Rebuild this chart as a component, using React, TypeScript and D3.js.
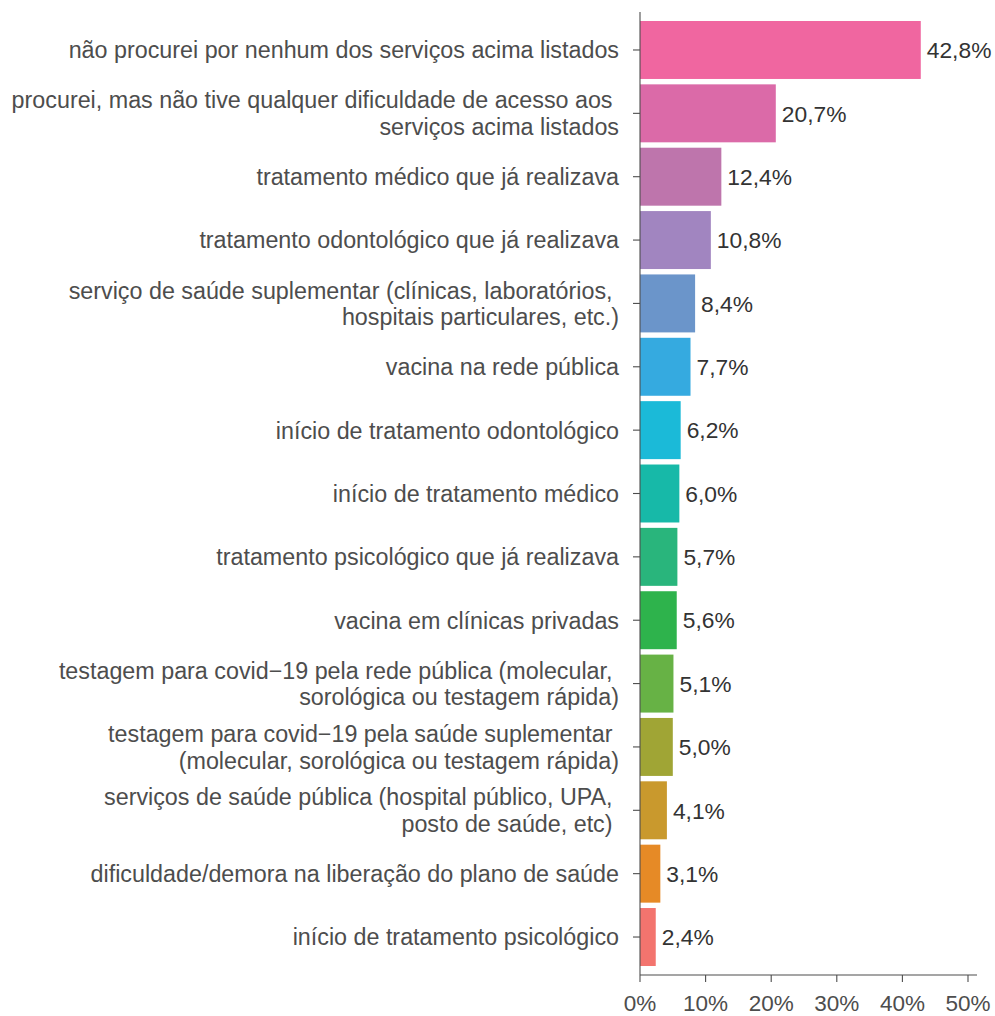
import React from "react";
import * as d3 from "d3";

const categories: string[][] = [
  ["não procurei por nenhum dos serviços acima listados"],
  ["procurei, mas não tive qualquer dificuldade de acesso aos ", "serviços acima listados"],
  ["tratamento médico que já realizava"],
  ["tratamento odontológico que já realizava"],
  ["serviço de saúde suplementar (clínicas, laboratórios, ", "hospitais particulares, etc.)"],
  ["vacina na rede pública"],
  ["início de tratamento odontológico"],
  ["início de tratamento médico"],
  ["tratamento psicológico que já realizava"],
  ["vacina em clínicas privadas"],
  ["testagem para covid−19 pela rede pública (molecular, ", "sorológica ou testagem rápida)"],
  ["testagem para covid−19 pela saúde suplementar ", "(molecular, sorológica ou testagem rápida)"],
  ["serviços de saúde pública (hospital público, UPA, ", "posto de saúde, etc) "],
  ["dificuldade/demora na liberação do plano de saúde"],
  ["início de tratamento psicológico"],
];
const values: number[] = [42.8, 20.7, 12.4, 10.8, 8.4, 7.7, 6.2, 6.0, 5.7, 5.6, 5.1, 5.0, 4.1, 3.1, 2.4];
const valueLabels: string[] = ["42,8%", "20,7%", "12,4%", "10,8%", "8,4%", "7,7%", "6,2%", "6,0%", "5,7%", "5,6%", "5,1%", "5,0%", "4,1%", "3,1%", "2,4%"];
const colors: string[] = [
  "#F066A0", "#DB6AA8", "#BE75AC", "#A185C0", "#6B95CA", "#35AAE0", "#1BBAD8",
  "#17B9A8", "#29B57C", "#2EB34C", "#67B245", "#A0A535", "#C9992D", "#E68A26", "#F3746E",
];
const xTicks: number[] = [0, 10, 20, 30, 40, 50];

export default function App() {
  const W = 995, H = 1016;
  const x0 = 640;
  const x = d3.scaleLinear().domain([0, 50]).range([x0, 968]);
  const idx = categories.map((_, i) => String(i));
  const y = d3.scaleBand().domain(idx).range([18.3, 968.7]).paddingInner(0.085).paddingOuter(0.0425);
  const font = "'Liberation Sans', Arial, Helvetica, sans-serif";
  const lh = 26.5;
  return (
    <svg width={W} height={H} style={{ position: "absolute", left: 0, top: 0, background: "#fff" }} fontFamily={font}>
      {values.map((v, i) => {
        const yy = y(String(i))!;
        return (
          <g key={i}>
            <rect x={x(0)} y={yy} width={x(v) - x(0)} height={y.bandwidth()} fill={colors[i]} />
            <text x={x(v) + 6} y={yy + y.bandwidth() / 2} dy="0.36em" fontSize={22.8} fill="#333333">{valueLabels[i]}</text>
          </g>
        );
      })}
      <line x1={x0} x2={x0} y1={12} y2={975} stroke="#4d4d4d" strokeWidth={1.1} />
      {categories.map((lines, i) => {
        const cy = y(String(i))! + y.bandwidth() / 2;
        const n = lines.length;
        return (
          <g key={"c" + i}>
            <line x1={x0 - 7} x2={x0} y1={cy} y2={cy} stroke="#4d4d4d" strokeWidth={1.1} />
            {lines.map((l, j) => (
              <text key={j} x={619} y={cy + (j - (n - 1) / 2) * lh} dy="0.36em" textAnchor="end" fontSize={23.3} fill="#4d4d4d" style={{ whiteSpace: "pre" }}>{l}</text>
            ))}
          </g>
        );
      })}
      <line x1={x0} x2={977} y1={975} y2={975} stroke="#4d4d4d" strokeWidth={1.1} />
      {xTicks.map((t) => (
        <g key={"t" + t}>
          <line x1={x(t)} x2={x(t)} y1={975} y2={982} stroke="#4d4d4d" strokeWidth={1.1} />
          <text x={x(t)} y={1003} dy="0.36em" textAnchor="middle" fontSize={22.5} fill="#4d4d4d">{t + "%"}</text>
        </g>
      ))}
    </svg>
  );
}
